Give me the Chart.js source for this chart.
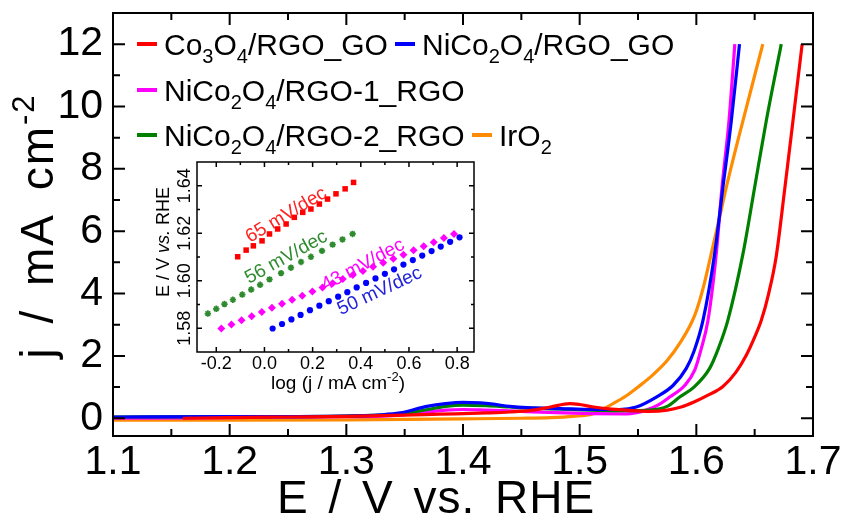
<!DOCTYPE html>
<html>
<head>
<meta charset="utf-8">
<script src="https://cdn.jsdelivr.net/npm/chart.js@4.4.1/dist/chart.umd.min.js"></script>
<style>
  html, body { margin: 0; padding: 0; background: #fff; }
  #wrap { position: relative; width: 842px; height: 524px; }
  #mainChart { position: absolute; left: 0; top: 0; }
  #insetChart { position: absolute; left: 140px; top: 150px; }
</style>
</head>
<body>
<div id="wrap">
  <canvas id="mainChart" width="842" height="524"></canvas>
  <canvas id="insetChart" width="345" height="250"></canvas>
</div>
<script>
// Axis titles and series names
const xAxisTitle = 'E / V vs. RHE';
const yAxisTitle = 'j / mA cm⁻²';
const insetXTitle = 'log (j / mA cm⁻²)';
const insetYTitle = 'E / V vs. RHE';
const seriesNames = ['Co₃O₄/RGO_GO', 'NiCo₂O₄/RGO_GO', 'NiCo₂O₄/RGO-1_RGO', 'NiCo₂O₄/RGO-2_RGO', 'IrO₂'];
const seriesColors = ['#ff0000', '#0000ff', '#ff00ff', '#008000', '#ff8c00'];

// Tick values
const mainXTicks = [1.1, 1.2, 1.3, 1.4, 1.5, 1.6, 1.7];
const mainYTicks = [0, 2, 4, 6, 8, 10, 12];
const insetXTicks = [-0.2, 0.0, 0.2, 0.4, 0.6, 0.8];
const insetYTicks = [1.58, 1.60, 1.62, 1.64];

// Polarization curves: potential (V vs. RHE) and current density (mA cm-2)
const co3o4E = [1.16, 1.20, 1.25, 1.30, 1.34, 1.38, 1.42, 1.44, 1.46, 1.475, 1.4915, 1.50, 1.512, 1.525, 1.54, 1.56, 1.575, 1.587, 1.598, 1.61, 1.6228, 1.634, 1.6428, 1.650, 1.6557, 1.662, 1.6685, 1.6756, 1.6827, 1.6907];
const co3o4J = [0.00, 0.02, 0.04, 0.06, 0.09, 0.13, 0.17, 0.20, 0.26, 0.36, 0.47, 0.44, 0.36, 0.30, 0.26, 0.22, 0.26, 0.36, 0.52, 0.74, 1.02, 1.48, 2.02, 2.60, 3.14, 4.00, 5.20, 7.30, 9.50, 12.00];

const nico2o4GoE = [1.10, 1.20, 1.30, 1.33, 1.346, 1.369, 1.385, 1.40, 1.415, 1.426, 1.44, 1.455, 1.483, 1.511, 1.534, 1.5486, 1.5657, 1.58, 1.5914, 1.598, 1.6057, 1.6157, 1.6228, 1.630, 1.637];
const nico2o4GoJ = [0.04, 0.05, 0.07, 0.11, 0.17, 0.38, 0.47, 0.51, 0.49, 0.45, 0.38, 0.34, 0.31, 0.28, 0.28, 0.36, 0.68, 1.05, 1.60, 2.15, 3.14, 5.28, 7.41, 9.55, 12.00];

const rgo1E = [1.10, 1.20, 1.30, 1.33, 1.346, 1.37, 1.385, 1.40, 1.42, 1.45, 1.48, 1.51, 1.54, 1.557, 1.567, 1.5771, 1.59, 1.5986, 1.604, 1.610, 1.6171, 1.622, 1.628, 1.633];
const rgo1J = [0.00, 0.02, 0.05, 0.07, 0.10, 0.20, 0.26, 0.28, 0.26, 0.22, 0.18, 0.15, 0.14, 0.26, 0.42, 0.68, 1.05, 1.54, 2.20, 3.14, 5.28, 7.41, 9.55, 12.00];

const rgo2E = [1.10, 1.20, 1.30, 1.33, 1.346, 1.37, 1.385, 1.40, 1.42, 1.44, 1.455, 1.48, 1.51, 1.54, 1.56, 1.575, 1.5857, 1.598, 1.6114, 1.619, 1.627, 1.640, 1.650, 1.660, 1.6728];
const rgo2J = [0.04, 0.05, 0.07, 0.10, 0.13, 0.28, 0.38, 0.42, 0.40, 0.36, 0.33, 0.30, 0.26, 0.24, 0.26, 0.38, 0.68, 1.00, 1.60, 2.25, 3.14, 5.28, 7.41, 9.55, 12.00];

const iro2E = [1.10, 1.20, 1.30, 1.40, 1.45, 1.475, 1.494, 1.511, 1.5286, 1.540, 1.551, 1.563, 1.575, 1.5857, 1.5986, 1.606, 1.6128, 1.620, 1.6257, 1.640, 1.657];
const iro2J = [-0.06, -0.06, -0.05, -0.02, 0.00, 0.02, 0.06, 0.14, 0.47, 0.72, 1.03, 1.40, 1.85, 2.40, 3.30, 4.20, 5.28, 6.45, 7.41, 9.55, 12.00];

// Tafel plot (inset): log j and potential
const co3o4LogJ = [-0.111, -0.076, -0.046, -0.010, 0.021, 0.055, 0.090, 0.124, 0.159, 0.193, 0.228, 0.262, 0.297, 0.335, 0.370];
const co3o4Pot = [1.6101, 1.6129, 1.6147, 1.6168, 1.6197, 1.6218, 1.6239, 1.6267, 1.6288, 1.6302, 1.6323, 1.6344, 1.6366, 1.6387, 1.6414];

const rgo2LogJ = [-0.235, -0.200, -0.166, -0.131, -0.092, -0.055, -0.018, 0.021, 0.069, 0.110, 0.152, 0.193, 0.239, 0.283, 0.324, 0.366];
const rgo2Pot = [1.5862, 1.5882, 1.5902, 1.5920, 1.5942, 1.5963, 1.5983, 1.6006, 1.6032, 1.6055, 1.6079, 1.6101, 1.6126, 1.6152, 1.6174, 1.6197];

const rgo1LogJ = [-0.179, -0.137, -0.095, -0.053, -0.011, 0.031, 0.073, 0.115, 0.157, 0.199, 0.241, 0.283, 0.325, 0.367, 0.409, 0.451, 0.493, 0.535, 0.577, 0.619, 0.661, 0.703, 0.745, 0.787];
const rgo1Pot = [1.5799, 1.5816, 1.5834, 1.5851, 1.5868, 1.5886, 1.5903, 1.5920, 1.5937, 1.5955, 1.5972, 1.5989, 1.6007, 1.6024, 1.6041, 1.6059, 1.6076, 1.6093, 1.6110, 1.6128, 1.6145, 1.6162, 1.6180, 1.6197];

const nico2o4GoLogJ = [0.034, 0.073, 0.112, 0.150, 0.189, 0.228, 0.267, 0.306, 0.344, 0.383, 0.422, 0.461, 0.500, 0.538, 0.577, 0.616, 0.655, 0.694, 0.732, 0.771, 0.810];
const nico2o4GoPot = [1.5799, 1.5818, 1.5837, 1.5856, 1.5876, 1.5895, 1.5914, 1.5933, 1.5952, 1.5972, 1.5991, 1.6010, 1.6029, 1.6048, 1.6068, 1.6087, 1.6106, 1.6125, 1.6144, 1.6164, 1.6183];

const slopeLabels = ['65 mV/dec', '56 mV/dec', '43 mV/dec', '50 mV/dec'];
const insetColors = ['#ff0000', '#2e8b2e', '#ff00ff', '#0000ff'];
const slopeTextColors = ['#ff2020', '#2e8b2e', '#ff00ff', '#2222dd'];

const FONT = '"Liberation Sans", Arial, sans-serif';
Chart.defaults.font.family = FONT;
Chart.defaults.color = '#000';

function toPoints(xs, ys) {
    return xs.map((v, i) => ({ x: v, y: ys[i] }));
}

function fixedTicks(values) {
    return scale => { scale.ticks = values.map(v => ({ value: v })); };
}

// keep the scale box fixed and stop tick labels from pushing the plot area
function fixedBox(size) {
    return scale => {
        if (scale.isHorizontal()) scale.height = size; else scale.width = size;
        scale.paddingTop = 0; scale.paddingBottom = 0;
        scale.paddingLeft = 0; scale.paddingRight = 0;
    };
}

// Text with sub/superscripts (unicode) and optional italic words
const SUB_DIGITS = '₀₁₂₃₄₅₆₇₈₉';
const SUP_CHARS = { '⁻': '-', '⁰': '0', '¹': '1', '²': '2', '³': '3' };

function richParts(text, italicWords) {
    const parts = [];
    text.split(/( )/).forEach(tok => {
        const it = !!(italicWords && italicWords.includes(tok));
        for (const ch of tok) {
            let kind = 'n', c = ch;
            const si = SUB_DIGITS.indexOf(ch);
            if (si >= 0) { kind = 'sub'; c = String(si); }
            else if (ch in SUP_CHARS) { kind = 'sup'; c = SUP_CHARS[ch]; }
            const last = parts[parts.length - 1];
            if (last && last.kind === kind && last.italic === it) last.text += c;
            else parts.push({ kind: kind, italic: it, text: c });
        }
    });
    return parts;
}

function drawRich(ctx, text, x, y, o) {
    const parts = richParts(text, o.italic);
    const fontFor = p => (p.italic ? 'italic ' : '') + Math.round(p.kind === 'n' ? o.size : o.size * 0.68) + 'px ' + FONT;
    ctx.save();
    ctx.letterSpacing = (o.spacing || 0) + 'px';
    ctx.wordSpacing = (o.wordSpacing || 0) + 'px';
    let total = 0;
    parts.forEach(p => { ctx.font = fontFor(p); p.w = ctx.measureText(p.text).width; total += p.w; });
    let cx = o.align === 'center' ? x - total / 2 : (o.align === 'right' ? x - total : x);
    ctx.textAlign = 'left';
    ctx.textBaseline = 'alphabetic';
    ctx.fillStyle = o.color || '#000';
    parts.forEach(p => {
        ctx.font = fontFor(p);
        const dy = p.kind === 'sub' ? o.size * 0.27 : (p.kind === 'sup' ? -o.size * 0.42 : 0);
        ctx.fillText(p.text, cx, y + dy);
        cx += p.w;
    });
    ctx.restore();
}

// Frame with inward ticks on all four sides
const frameTicks = {
    id: 'frameTicks',
    afterDatasetsDraw(chart, args, o) {
        const { ctx, chartArea: a } = chart;
        ctx.save();
        ctx.strokeStyle = '#000';
        ctx.lineWidth = o.lineWidth;
        const mark = (scale, v, len) => {
            const p = scale.getPixelForValue(v);
            ctx.beginPath();
            if (scale.isHorizontal()) {
                ctx.moveTo(p, a.bottom); ctx.lineTo(p, a.bottom - len);
                ctx.moveTo(p, a.top); ctx.lineTo(p, a.top + len);
            } else {
                ctx.moveTo(a.left, p); ctx.lineTo(a.left + len, p);
                ctx.moveTo(a.right, p); ctx.lineTo(a.right - len, p);
            }
            ctx.stroke();
        };
        [chart.scales.x, chart.scales.y].forEach(s => {
            const vals = s.ticks.map(t => t.value);
            vals.forEach(v => mark(s, v, o.major));
            const step = vals[1] - vals[0];
            for (let i = -1; i < vals.length; i++) {
                const m = vals[0] + (i + 0.5) * step;
                if (m > s.min + 1e-9 && m < s.max - 1e-9) mark(s, m, o.minor);
            }
        });
        ctx.strokeRect(a.left, a.top, a.right - a.left, a.bottom - a.top);
        ctx.restore();
    }
};

// Legend drawn inside the plot, with subscripts
const richLegend = {
    id: 'richLegend',
    afterDraw(chart, args, o) {
        const ctx = chart.ctx;
        o.items.forEach(it => {
            const ds = chart.data.datasets[it.index];
            ctx.save();
            ctx.strokeStyle = ds.borderColor;
            ctx.lineWidth = o.lineWidth;
            ctx.beginPath();
            ctx.moveTo(it.x, it.y);
            ctx.lineTo(it.x + o.segment, it.y);
            ctx.stroke();
            ctx.restore();
            drawRich(ctx, ds.label, it.x + o.textGap, it.y + o.size * 0.37, { size: o.size });
        });
    }
};

// Axis titles
const axisTitles = {
    id: 'axisTitles',
    afterDraw(chart, args, o) {
        const ctx = chart.ctx;
        drawRich(ctx, o.x.text, o.x.cx, o.x.baseline, { size: o.x.size, align: 'center', spacing: o.x.spacing, wordSpacing: o.x.wordSpacing });
        ctx.save();
        ctx.translate(o.y.baseline, o.y.cy);
        ctx.rotate(-Math.PI / 2);
        drawRich(ctx, o.y.text, 0, 0, { size: o.y.size, align: 'center', spacing: o.y.spacing, wordSpacing: o.y.wordSpacing });
        ctx.restore();
    }
};

new Chart(document.getElementById('mainChart'), {
    type: 'line',
    data: {
        datasets: [
            { label: seriesNames[0], data: toPoints(co3o4E, co3o4J), borderColor: seriesColors[0], order: 0 },
            { label: seriesNames[1], data: toPoints(nico2o4GoE, nico2o4GoJ), borderColor: seriesColors[1], order: 1 },
            { label: seriesNames[2], data: toPoints(rgo1E, rgo1J), borderColor: seriesColors[2], order: 3 },
            { label: seriesNames[3], data: toPoints(rgo2E, rgo2J), borderColor: seriesColors[3], order: 2 },
            { label: seriesNames[4], data: toPoints(iro2E, iro2J), borderColor: seriesColors[4], order: 4 }
        ]
    },
    options: {
        responsive: false,
        animation: false,
        devicePixelRatio: 1,
        layout: { padding: { top: 13, right: 29, left: 0, bottom: 0 } },
        elements: {
            point: { radius: 0 },
            line: { borderWidth: 3.2, fill: false, cubicInterpolationMode: 'monotone' }
        },
        plugins: {
            legend: { display: false },
            tooltip: { enabled: false },
            frameTicks: { lineWidth: 2, major: 12, minor: 7 },
            richLegend: {
                size: 30, segment: 20, textGap: 27, lineWidth: 4,
                items: [
                    { index: 0, x: 137, y: 44 },
                    { index: 1, x: 395, y: 44 },
                    { index: 2, x: 137, y: 90 },
                    { index: 3, x: 137, y: 135 },
                    { index: 4, x: 472, y: 135 }
                ]
            },
            axisTitles: {
                x: { text: xAxisTitle, size: 46, cx: 436, baseline: 513, spacing: 1, wordSpacing: 6 },
                y: { text: yAxisTitle, size: 46, cy: 226, baseline: 53, spacing: 2, wordSpacing: 8 }
            }
        },
        scales: {
            x: {
                type: 'linear', min: 1.1, max: 1.7,
                afterFit: fixedBox(88),
                afterBuildTicks: fixedTicks(mainXTicks),
                grid: { display: false, drawTicks: false },
                border: { display: false },
                ticks: {
                    padding: 2, autoSkip: false, maxRotation: 0,
                    font: { size: 41 },
                    callback: v => v.toFixed(1)
                }
            },
            y: {
                type: 'linear', min: -0.57, max: 13,
                afterFit: fixedBox(113),
                afterBuildTicks: fixedTicks(mainYTicks),
                grid: { display: false, drawTicks: false },
                border: { display: false },
                ticks: {
                    padding: 10, autoSkip: false,
                    font: { size: 41 },
                    callback: v => String(Math.round(v))
                }
            }
        }
    },
    plugins: [frameTicks, richLegend, axisTitles]
});

// Inset: rotated y tick labels, titles and slope notes
const insetDecor = {
    id: 'insetDecor',
    beforeDatasetsDraw(chart) {
        const { ctx, chartArea: a } = chart;
        ctx.save();
        ctx.fillStyle = '#fff';
        ctx.fillRect(a.left, a.top, a.right - a.left, a.bottom - a.top);
        ctx.restore();
    },
    afterDraw(chart, args, o) {
        const ctx = chart.ctx;
        const y = chart.scales.y, x = chart.scales.x;
        y.ticks.forEach(t => {
            ctx.save();
            ctx.translate(o.yTickBaseline, y.getPixelForValue(t.value));
            ctx.rotate(-Math.PI / 2);
            drawRich(ctx, t.value.toFixed(2), 0, 0, { size: o.tickSize, align: 'center' });
            ctx.restore();
        });
        ctx.save();
        ctx.translate(o.yTitleBaseline, o.yTitleCy);
        ctx.rotate(-Math.PI / 2);
        drawRich(ctx, insetYTitle, 0, 0, { size: o.titleSize, align: 'center', italic: ['vs.'] });
        ctx.restore();
        drawRich(ctx, insetXTitle, o.xTitleCx, o.xTitleBaseline, { size: o.titleSize + 1, align: 'center' });
        o.notes.forEach((n, i) => {
            ctx.save();
            ctx.translate(x.getPixelForValue(n.at[0]), y.getPixelForValue(n.at[1]));
            ctx.rotate(n.angle * Math.PI / 180);
            drawRich(ctx, slopeLabels[i], 0, o.noteSize * 0.36, { size: o.noteSize, align: 'center', color: slopeTextColors[i] });
            ctx.restore();
        });
    }
};

new Chart(document.getElementById('insetChart'), {
    type: 'scatter',
    data: {
        datasets: [
            { label: slopeLabels[0], data: toPoints(co3o4LogJ, co3o4Pot), pointStyle: 'rect', pointRadius: 3.9, backgroundColor: insetColors[0], borderColor: insetColors[0], borderWidth: 0 },
            { label: slopeLabels[1], data: toPoints(rgo2LogJ, rgo2Pot), pointStyle: 'star', pointRadius: 3.2, backgroundColor: insetColors[1], borderColor: insetColors[1], borderWidth: 1.7 },
            { label: slopeLabels[2], data: toPoints(rgo1LogJ, rgo1Pot), pointStyle: 'rectRot', pointRadius: 4, backgroundColor: insetColors[2], borderColor: insetColors[2], borderWidth: 0 },
            { label: slopeLabels[3], data: toPoints(nico2o4GoLogJ, nico2o4GoPot), pointStyle: 'circle', pointRadius: 3.1, backgroundColor: insetColors[3], borderColor: insetColors[3], borderWidth: 0 }
        ]
    },
    options: {
        responsive: false,
        animation: false,
        devicePixelRatio: 1,
        layout: { padding: { top: 12, right: 11, left: 0, bottom: 0 } },
        plugins: {
            legend: { display: false },
            tooltip: { enabled: false },
            frameTicks: { lineWidth: 1.5, major: 5, minor: 3 },
            insetDecor: {
                tickSize: 18, titleSize: 18, noteSize: 19,
                yTickBaseline: 50, yTitleBaseline: 29, yTitleCy: 92,
                xTitleCx: 198, xTitleBaseline: 239,
                notes: [
                    { at: [0.087, 1.6282], angle: -31 },
                    { at: [0.087, 1.6104], angle: -29 },
                    { at: [0.406, 1.6072], angle: -28 },
                    { at: [0.476, 1.5962], angle: -25 }
                ]
            }
        },
        scales: {
            x: {
                type: 'linear', min: -0.28, max: 0.87,
                afterFit: fixedBox(48),
                afterBuildTicks: fixedTicks(insetXTicks),
                grid: { display: false, drawTicks: false },
                border: { display: false },
                ticks: {
                    padding: 1, autoSkip: false, maxRotation: 0,
                    font: { size: 18 },
                    callback: v => (Math.abs(v) < 1e-9 ? '0.0' : v.toFixed(1))
                }
            },
            y: {
                type: 'linear', min: 1.57, max: 1.65,
                afterFit: fixedBox(57),
                afterBuildTicks: fixedTicks(insetYTicks),
                grid: { display: false, drawTicks: false },
                border: { display: false },
                ticks: { display: false }
            }
        }
    },
    plugins: [insetDecor, frameTicks]
});
</script>
</body>
</html>
